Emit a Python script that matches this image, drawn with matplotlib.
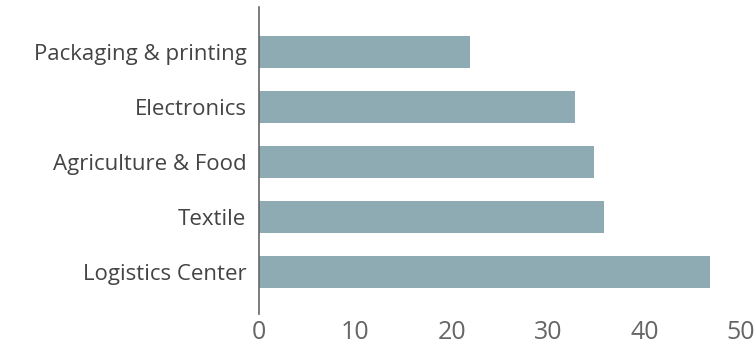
import matplotlib
matplotlib.use("Agg")
import matplotlib.pyplot as plt

categories = ["Logistics Center", "Textile", "Agriculture & Food", "Electronics", "Packaging & printing"]
values = [46.8, 35.8, 34.8, 32.8, 21.9]
x_ticks = [0, 10, 20, 30, 40, 50]

plt.rcParams["font.family"] = ["Open Sans", "DejaVu Sans"]

W, H = 754, 350
fig = plt.figure(figsize=(W / 100, H / 100), dpi=100)
ax = fig.add_axes([259 / W, 1 - 314 / H, (741 - 259) / W, (314 - 7) / H])

ax.barh(range(len(categories)), values, height=0.58, color="#8eaab2", zorder=2)

ax.set_xlim(0, 50)
ax.set_ylim(-0.76, 4.82)
ax.set_xticks(x_ticks)
ax.set_yticks(range(len(categories)))
ax.set_yticklabels(categories, fontsize=16, color="#444444")
ax.tick_params(axis="x", labelsize=18, colors="#666666", length=0, pad=4)
ax.tick_params(axis="y", length=0, pad=9)

for side in ["top", "right", "bottom"]:
    ax.spines[side].set_visible(False)
ax.spines["left"].set_color("#666666")
ax.spines["left"].set_linewidth(1.2)

fig.savefig("out.png", dpi=100)
